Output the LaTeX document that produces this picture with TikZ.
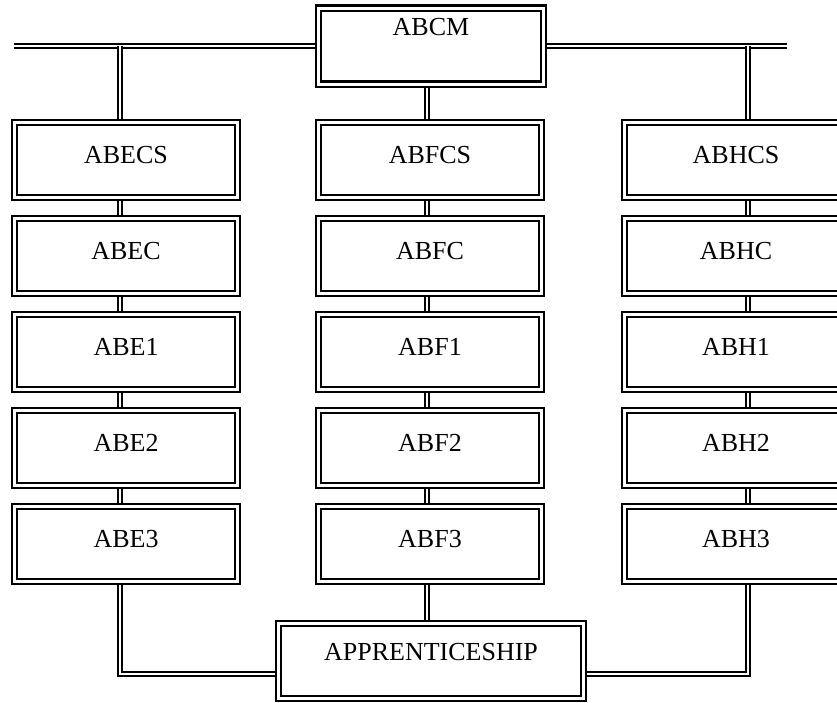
\documentclass[tikz,border=0pt]{standalone}
\usepackage{fontspec}
\setmainfont{Liberation Serif}
\usetikzlibrary{backgrounds}
\begin{document}
\begin{tikzpicture}[x=1pt, y=-1pt,
  unit/.style={draw, double, line width=2.1pt, double distance=3pt, minimum width=223pt, minimum height=75pt, text depth=10pt, font=\fontsize{26}{31}\selectfont},
  link/.style={draw, double, line width=1.9pt, double distance=2.2pt}]
\useasboundingbox (0,0) rectangle (837,702);
\node[unit, text depth=38pt, minimum width=225pt, minimum height=76pt] (M) at (431,46) {ABCM};
\foreach \col/\x in {E/126, F/430, H/736}
  \foreach \row/\y in {CS/160, C/256, 1/352, 2/448, 3/544}
    \node[unit] (\col\row) at (\x,\y) {AB\col\row};
\node[unit, text depth=18pt, minimum width=305pt] (A) at (431,661) {APPRENTICESHIP};
% linking lines
\coordinate (Ex) at (120,0);
\coordinate (Fx) at (427,0);
\coordinate (Hx) at (748,0);
\coordinate (tl) at (14,46);
\coordinate (tr) at (787,46);
\begin{scope}[on background layer]
\draw[link] (tl) -- (M.west);
\draw[link] (M.east) -- (tr);
\draw[link] (tl -| Ex) -- (ECS.north -| Ex);
\draw[link] (tr -| Hx) -- (HCS.north -| Hx);
\draw[link] (M.south -| Fx) -- (FCS.north -| Fx);
\foreach \col in {E,F,H}
  \foreach \a/\b in {CS/C, C/1, 1/2, 2/3}
    \draw[link] (\col\a.south -| \col x) -- (\col\b.north -| \col x);
\draw[link] (E3.south -| Ex) |- ([yshift=-13pt]A.west);
\draw[link] (H3.south -| Hx) |- ([yshift=-13pt]A.east);
\draw[link] (F3.south -| Fx) -- (A.north -| Fx);
\end{scope}
\end{tikzpicture}
\end{document}
